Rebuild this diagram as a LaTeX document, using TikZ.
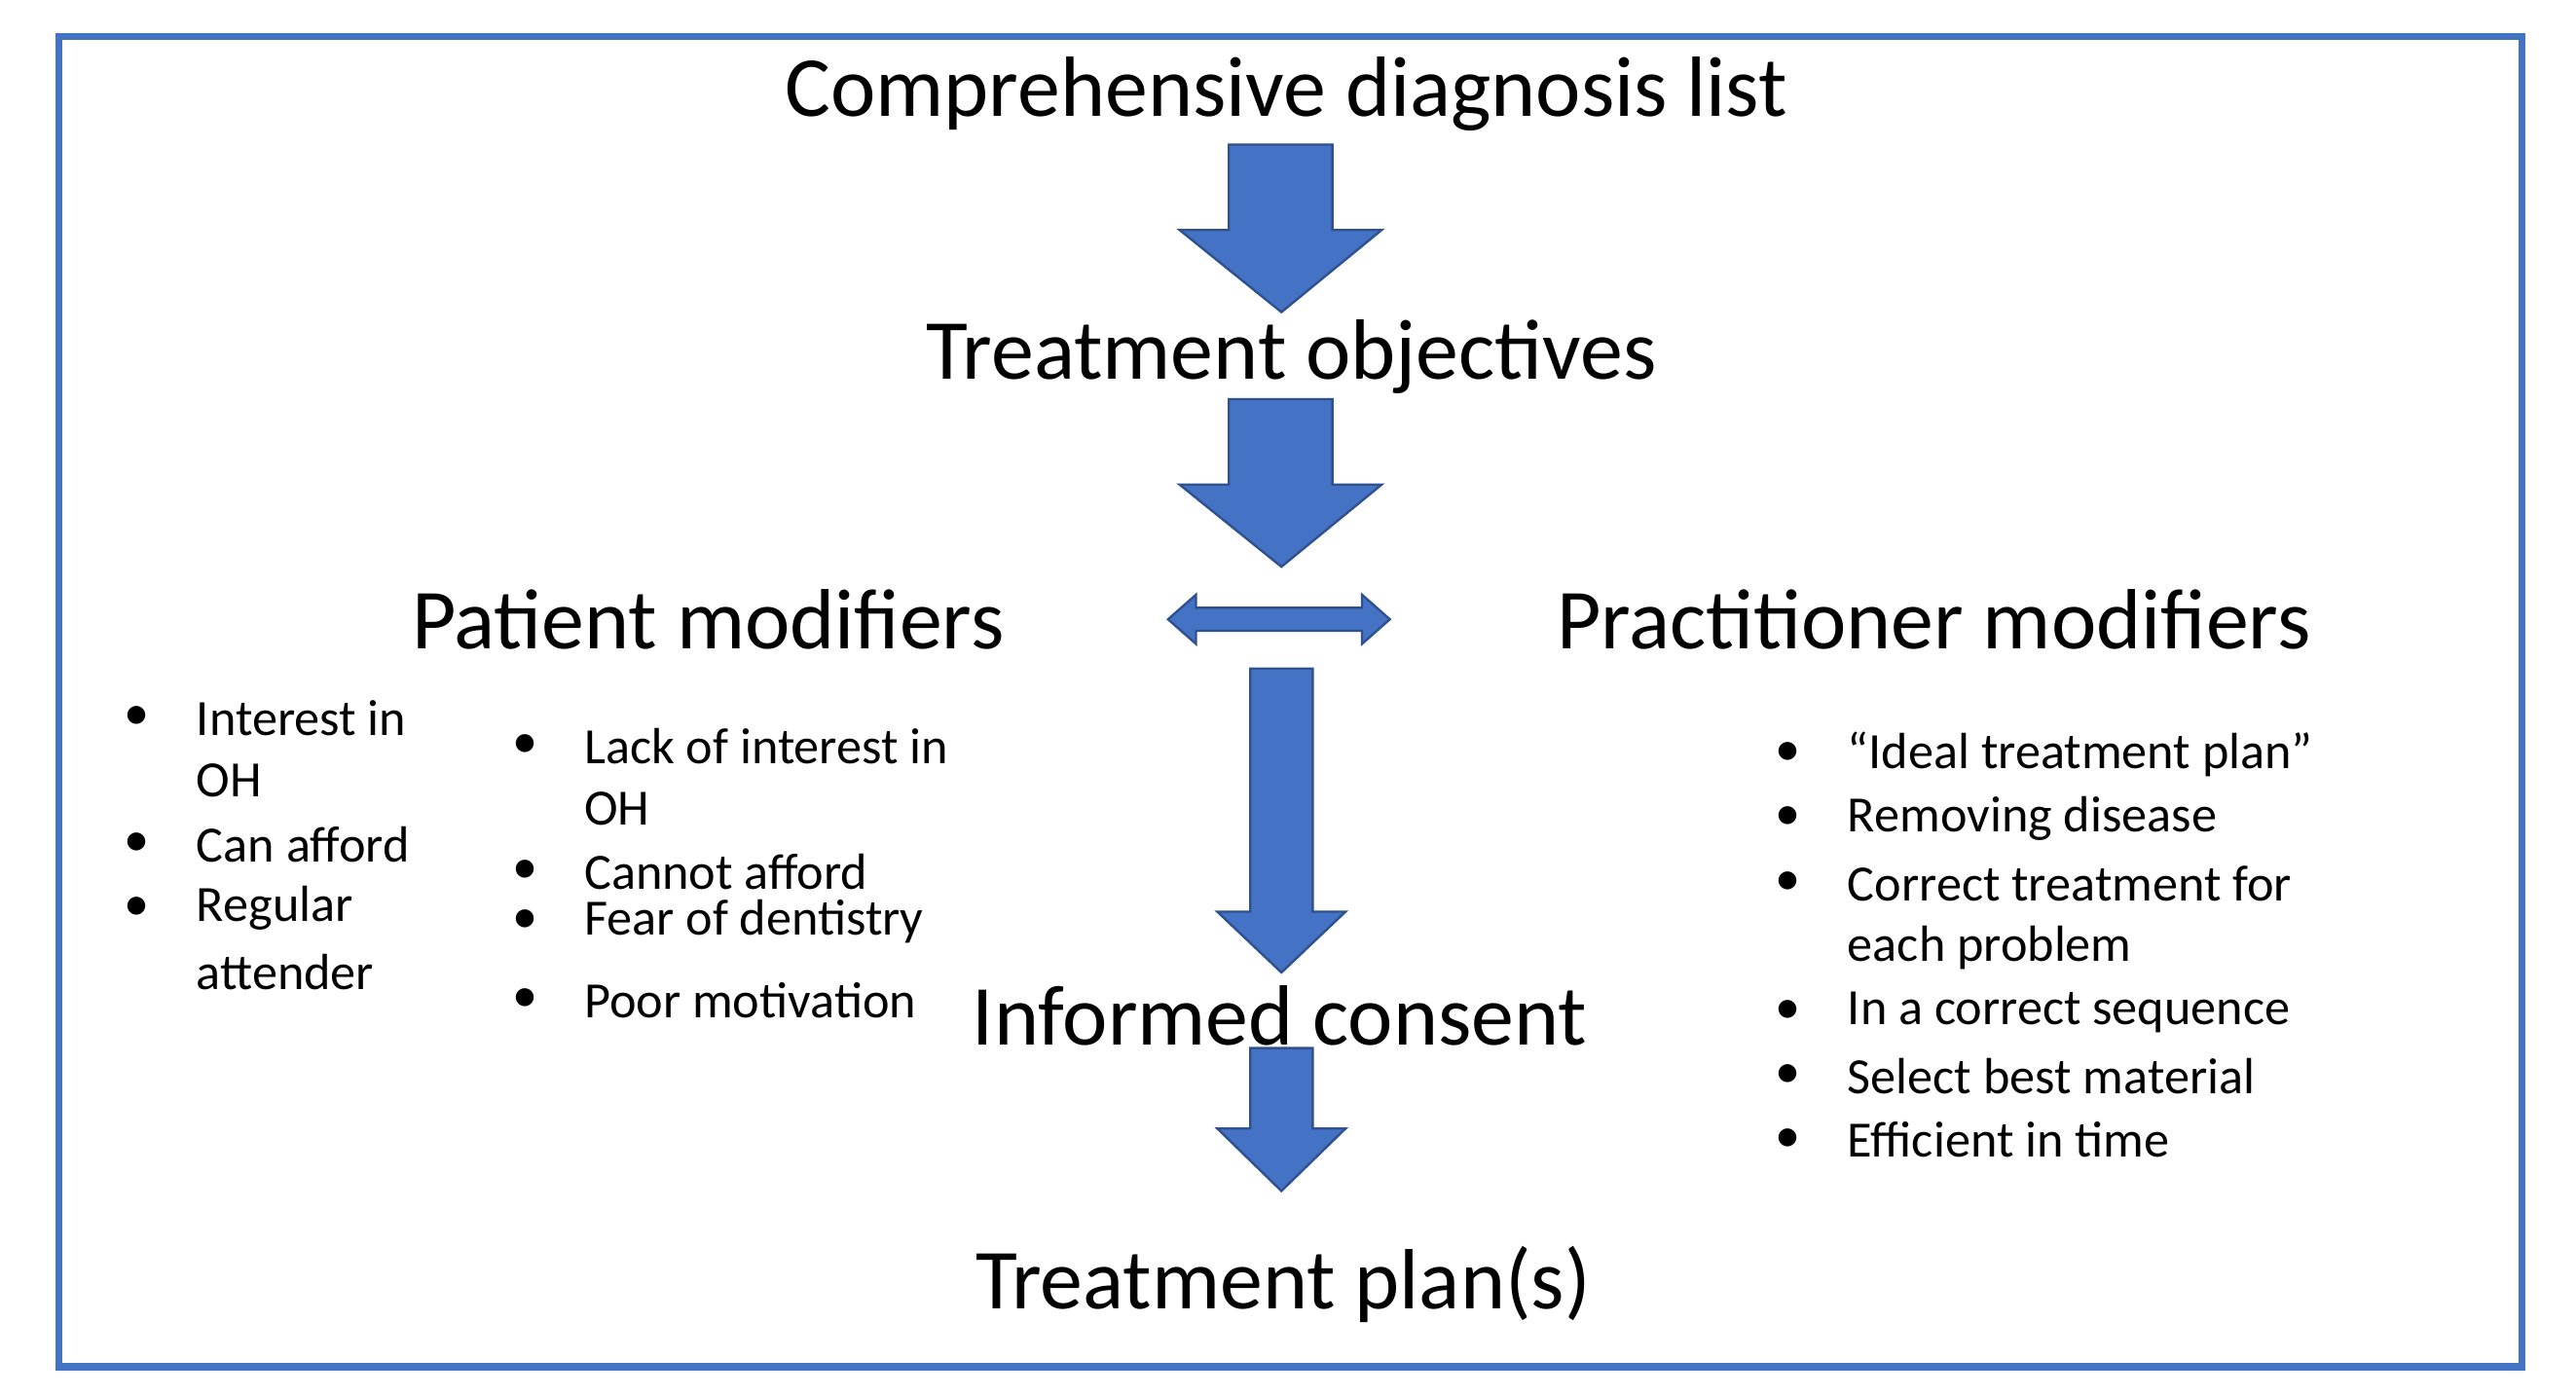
\documentclass[tikz,border=0pt]{standalone}
\usepackage{fontspec}
\setmainfont{Carlito}
\usetikzlibrary{positioning}
\usetikzlibrary{calc}
\definecolor{ppblue}{RGB}{68,114,196}
\definecolor{ppedge}{RGB}{47,82,143}
\newcommand{\downarrowblock}[5]{% x-left x-right y-top y-shaftend half-head-extra, tip
  \filldraw[blockarrow] (#1,#3) -- (#2,#3) -- (#2,#4) -- ($(#2,#4)+(#5,0)$) -- ($({(#1+#2)/2},#4)+(0,-0.50)$) -- ($(#1,#4)+(-#5,0)$) -- (#1,#4) -- cycle;}
\begin{document}
\begin{tikzpicture}[x=0.01cm,y=-0.01cm]
		\tikzset{head/.style = {font=\fontsize{14.8}{18}\selectfont, inner sep=0pt}}
		\tikzset{item/.style = {font=\fontsize{8.8}{10}\selectfont, anchor=west, inner sep=0pt}}
		\tikzset{dot/.style = {font=\fontsize{8.8}{10}\selectfont, inner sep=0pt}}
		\tikzset{blockarrow/.style = {fill=ppblue, draw=ppedge, line width=0.4pt}}
		\useasboundingbox (0,0) rectangle (1568,849);
		\draw[ppblue, line width=1.2pt] (36,22) rectangle (1535,832);
		% headings
		\node[head] (diag) at (783,57) {Comprehensive diagnosis list};
		\node[head] (obj) at (786,217) {Treatment objectives};
		\node[head] (pat) at (431,377) {Patient modifiers};
		\node[head] (prac) at (1177,377) {Practitioner modifiers};
		\node[head] (cons) at (779,618) {Informed consent};
		\node[head] (plan) at (781,782) {Treatment plan(s)};
		% arrows
		\filldraw[blockarrow] (748,88) -- (811,88) -- (811,140) -- (841,140) -- (780,190) -- (718,140) -- (748,140) -- cycle;
		\filldraw[blockarrow] (748,243) -- (811,243) -- (811,295) -- (841,295) -- (780,345) -- (718,295) -- (748,295) -- cycle;
		\filldraw[blockarrow] (761,407) -- (799,407) -- (799,555) -- (819,555) -- (780,592) -- (741,555) -- (761,555) -- cycle;
		\filldraw[blockarrow] (761,638) -- (799,638) -- (799,687) -- (819,687) -- (780,725) -- (741,687) -- (761,687) -- cycle;
		\filldraw[blockarrow] (711,377) -- (728,362) -- (728,370) -- (829,370) -- (829,362) -- (846,377) -- (829,392) -- (829,384) -- (728,384) -- (728,392) -- cycle;
		% patient lists
		\node[dot] (pb1) at (83,437) {•};
		\node[item] (p1) at (119,437) {Interest in};
		\node[item] (p1b) at (119,475) {OH};
		\node[dot] (pb2) at (83,514) {•};
		\node[item] (p2) at (119,514) {Can afford};
		\node[dot] (pb3) at (83,553) {•};
		\node[item] (p3) at (119,553) {Regular};
		\node[item] (p3b) at (119,592) {attender};
		\node[dot] (qb1) at (320,454) {•};
		\node[item] (q1) at (355,454) {Lack of interest in};
		\node[item] (q1b) at (355,492) {OH};
		\node[dot] (qb2) at (320,531) {•};
		\node[item] (q2) at (355,531) {Cannot afford};
		\node[dot] (qb3) at (320,561) {•};
		\node[item] (q3) at (355,561) {Fear of dentistry};
		\node[dot] (qb4) at (320,609) {•};
		\node[item] (q4) at (355,609) {Poor motivation};
		% practitioner list
		\foreach \y/\t in {459/{“Ideal treatment plan”},498/{Removing disease},538/{Correct treatment for},616/{In a correct sequence},655/{Select best material},694/{Efficient in time}}{
			\node[dot] at (1088,\y) {•};
			\node[item] at (1124,\y) {\t};
		}
		\node[item] (r3b) at (1124,577) {each problem};
\end{tikzpicture}
\end{document}
